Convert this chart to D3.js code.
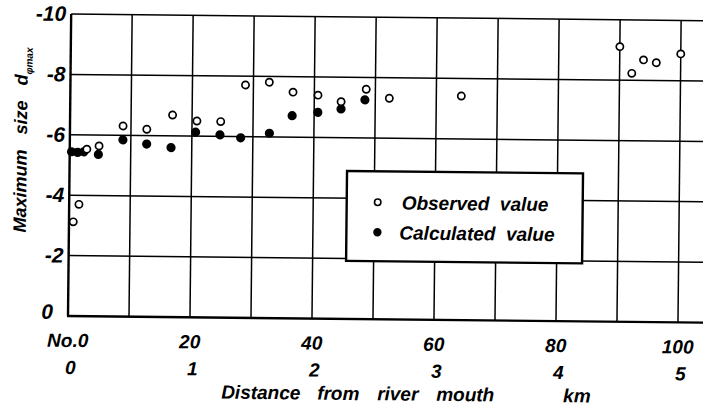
<!DOCTYPE html>
<html>
<head>
<meta charset="utf-8">
<script src="https://cdn.jsdelivr.net/npm/d3@7"></script>
<style>
  body { margin: 0; background: #ffffff; }
  svg { display: block; }
  text { font-family: "Liberation Sans", Arial, sans-serif; font-style: italic; font-weight: bold; fill: #000; }
</style>
</head>
<body>
<div id="chart"></div>
<script>
//-------------------------------------------------------
// data (station No. / size in phi)
//-------------------------------------------------------
const observedStation = [0.7, 1.6, 2.8, 4.8, 8.7, 12.6, 16.8, 20.8, 24.7, 28.7, 32.6, 36.5, 40.6, 44.4, 48.5, 52.3, 64.1, 90.0, 92.0, 93.9, 96.0, 100.0];
const observedSize = [-3.12, -3.70, -5.53, -5.64, -6.31, -6.21, -6.69, -6.50, -6.49, -7.71, -7.81, -7.49, -7.40, -7.19, -7.61, -7.32, -7.42, -9.11, -8.23, -8.68, -8.59, -8.89];

const calculatedStation = [0.3, 1.3, 2.3, 4.7, 8.7, 12.6, 16.6, 20.6, 24.6, 28.0, 32.7, 36.4, 40.6, 44.4, 48.3];
const calculatedSize = [-5.44, -5.42, -5.44, -5.36, -5.85, -5.72, -5.61, -6.13, -6.05, -5.96, -6.12, -6.71, -6.83, -6.95, -7.26];

const yTicks = [0, -2, -4, -6, -8, -10];
const yGrid = [-2, -4, -6, -8, -10];
const xGrid = [10, 20, 30, 40, 50, 60, 70, 80, 90, 100];
const stationTicks = [0, 20, 40, 60, 80, 100];
const stationLabels = ["No.0", "20", "40", "60", "80", "100"];
const kmLabels = ["0", "1", "2", "3", "4", "5"];

//set properties
let properties = {
    width: 703,
    height: 410,
    origin: { x: 68, y: 316 },
    tilt: 0.6, // the scan is slightly rotated
    color: { black: "#000000", white: "#ffffff" }
};

const x = d3.scaleLinear().domain([0, 100]).range([properties.origin.x, 678]);
const y = d3.scaleLinear().domain([0, -10]).range([properties.origin.y, 14]);

const svg = d3.select("#chart")
    .append("svg")
    .attr("width", properties.width)
    .attr("height", properties.height);

const bounds = svg.append("g")
    .attr("transform", `rotate(${properties.tilt}, ${properties.origin.x}, ${properties.origin.y})`);

// grid
bounds.append("g").selectAll("line")
    .data(yGrid)
    .enter()
    .append("line")
    .attr("x1", x(0))
    .attr("x2", 730)
    .attr("y1", d => y(d))
    .attr("y2", d => y(d))
    .attr("stroke", properties.color.black)
    .attr("stroke-width", 1.5);

bounds.append("g").selectAll("line")
    .data(xGrid)
    .enter()
    .append("line")
    .attr("x1", d => x(d))
    .attr("x2", d => x(d))
    .attr("y1", y(0))
    .attr("y2", y(-10))
    .attr("stroke", properties.color.black)
    .attr("stroke-width", 1.5);

// axes
bounds.append("line")
    .attr("x1", x(0)).attr("x2", x(0))
    .attr("y1", y(0)).attr("y2", y(-10))
    .attr("stroke", properties.color.black)
    .attr("stroke-width", 2.4);
bounds.append("line")
    .attr("x1", x(0) - 1).attr("x2", 730)
    .attr("y1", y(0)).attr("y2", y(0))
    .attr("stroke", properties.color.black)
    .attr("stroke-width", 2.4);

// y tick labels
bounds.append("g").selectAll("text")
    .data(yTicks)
    .enter()
    .append("text")
    .attr("x", d => d === 0 ? 53 : 63)
    .attr("y", d => y(d) + (d === 0 ? 3 : 7))
    .attr("text-anchor", "end")
    .attr("font-size", 21)
    .text(d => d === 0 ? "0" : "-" + Math.abs(d));

// x tick labels, station numbers and km
bounds.append("g").selectAll("text")
    .data(stationTicks)
    .enter()
    .append("text")
    .attr("x", d => x(d))
    .attr("y", 347)
    .attr("text-anchor", "middle")
    .attr("font-size", 19)
    .text((d, i) => stationLabels[i]);

bounds.append("g").selectAll("text")
    .data(stationTicks)
    .enter()
    .append("text")
    .attr("x", d => x(d) + 3)
    .attr("y", 374)
    .attr("text-anchor", "middle")
    .attr("font-size", 19)
    .text((d, i) => kmLabels[i]);

// axis titles
const xTitle = bounds.append("text")
    .attr("y", 397)
    .attr("font-size", 19);
xTitle.append("tspan").attr("x", 222).text("Distance");
xTitle.append("tspan").attr("x", 318).text("from");
xTitle.append("tspan").attr("x", 378).text("river");
xTitle.append("tspan").attr("x", 437).text("mouth");
xTitle.append("tspan").attr("x", 564).text("km");

const yTitle = bounds.append("text")
    .attr("transform", "translate(25, 233) rotate(-90)")
    .attr("font-size", 18)
    .style("white-space", "pre");
yTitle.append("tspan").text("Maximum   size   d");
yTitle.append("tspan").attr("font-size", 10).attr("dy", 5).text("\u03c6max");

// marks
bounds.append("g").selectAll("circle")
    .data(calculatedStation)
    .enter()
    .append("circle")
    .attr("cx", d => x(d))
    .attr("cy", (d, i) => y(calculatedSize[i]))
    .attr("r", 4.6)
    .attr("fill", properties.color.black);

bounds.append("g").selectAll("circle")
    .data(observedStation)
    .enter()
    .append("circle")
    .attr("cx", d => x(d))
    .attr("cy", (d, i) => y(observedSize[i]))
    .attr("r", 3.6)
    .attr("fill", properties.color.white)
    .attr("stroke", properties.color.black)
    .attr("stroke-width", 1.7);

// legend
const legend = bounds.append("g")
    .attr("transform", "translate(345.5, 168)");
legend.append("rect")
    .attr("width", 236)
    .attr("height", 90)
    .attr("fill", properties.color.white)
    .attr("stroke", properties.color.black)
    .attr("stroke-width", 2.4);
legend.append("circle")
    .attr("cx", 31).attr("cy", 31).attr("r", 3.2)
    .attr("fill", properties.color.white)
    .attr("stroke", properties.color.black)
    .attr("stroke-width", 1.6);
legend.append("text")
    .attr("x", 55).attr("y", 38)
    .attr("font-size", 19)
    .style("white-space", "pre")
    .text("Observed  value");
legend.append("circle")
    .attr("cx", 31).attr("cy", 61).attr("r", 4.2)
    .attr("fill", properties.color.black);
legend.append("text")
    .attr("x", 53).attr("y", 68)
    .attr("font-size", 19)
    .style("white-space", "pre")
    .text("Calculated  value");
</script>
</body>
</html>
